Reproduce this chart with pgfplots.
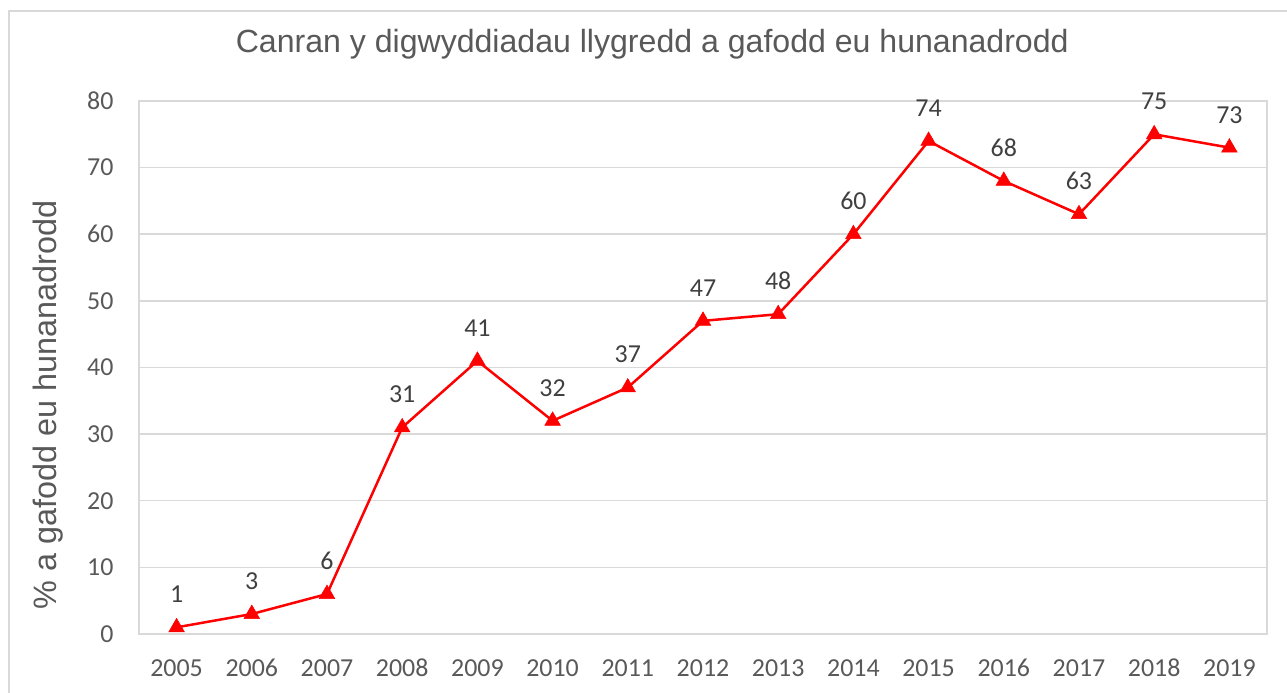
\documentclass[border=0pt]{standalone}
\usepackage{pgfplots}
\pgfplotsset{compat=1.18}
\usepackage{fontspec}
\setmainfont{Liberation Sans}
\newfontfamily\calfont{Carlito}
\definecolor{gridc}{RGB}{217,217,217}
\definecolor{labc}{RGB}{89,89,89}
\definecolor{datc}{RGB}{64,64,64}
\begin{document}
\begin{tikzpicture}[x=1bp,y=1bp]
\useasboundingbox (0,0) rectangle (1287,693);
\fill[white] (0,0) rectangle (1287,693);
\draw[gridc, line width=1.5bp] (9,-10) -- (9,682) -- (1300,682);
\begin{axis}[
  at={(139bp,59bp)}, anchor=south west,
  scale only axis, width=1128bp, height=533bp,
  xmin=2004.5, xmax=2019.5, ymin=0, ymax=80,
  xtick={2005,2006,...,2019}, ytick={0,10,...,80},
  ymajorgrids, grid style={gridc, line width=1.5bp},
  axis line style={gridc, line width=1.5bp},
  major tick length=0pt,
  tick label style={font=\fontsize{26}{26}\selectfont\calfont, text=labc},
  /pgf/number format/assume math mode=true,
  /pgf/number format/1000 sep={},
  xticklabel style={yshift=-22bp, text height=17bp, text depth=0bp},
  yticklabel style={xshift=-22bp},
  title={Canran y digwyddiadau llygredd a gafodd eu hunanadrodd},
  title style={at={(axis description cs:0.455,1.0957)}, anchor=center, font=\fontsize{32.2}{32}\selectfont, text=labc},
  ylabel={\% a gafodd eu hunanadrodd},
  ylabel style={at={(axis description cs:-0.0807,0.43)}, anchor=center, font=\fontsize{32.5}{32}\selectfont, text=labc},
  nodes near coords,
  nodes near coords style={font=\fontsize{26}{26}\selectfont\calfont, text=datc, anchor=center, yshift=33bp, text height=17bp, text depth=0bp, /pgf/number format/assume math mode=true},
  clip=false,
]
\addplot[color=red, line width=2.5bp, mark=triangle*, mark size=9bp, mark options={fill=red, line width=0.5bp}] coordinates {
(2005,1) (2006,3) (2007,6) (2008,31) (2009,41) (2010,32) (2011,37) (2012,47) (2013,48) (2014,60) (2015,74) (2016,68) (2017,63) (2018,75) (2019,73)
};
\end{axis}
\end{tikzpicture}
\end{document}
